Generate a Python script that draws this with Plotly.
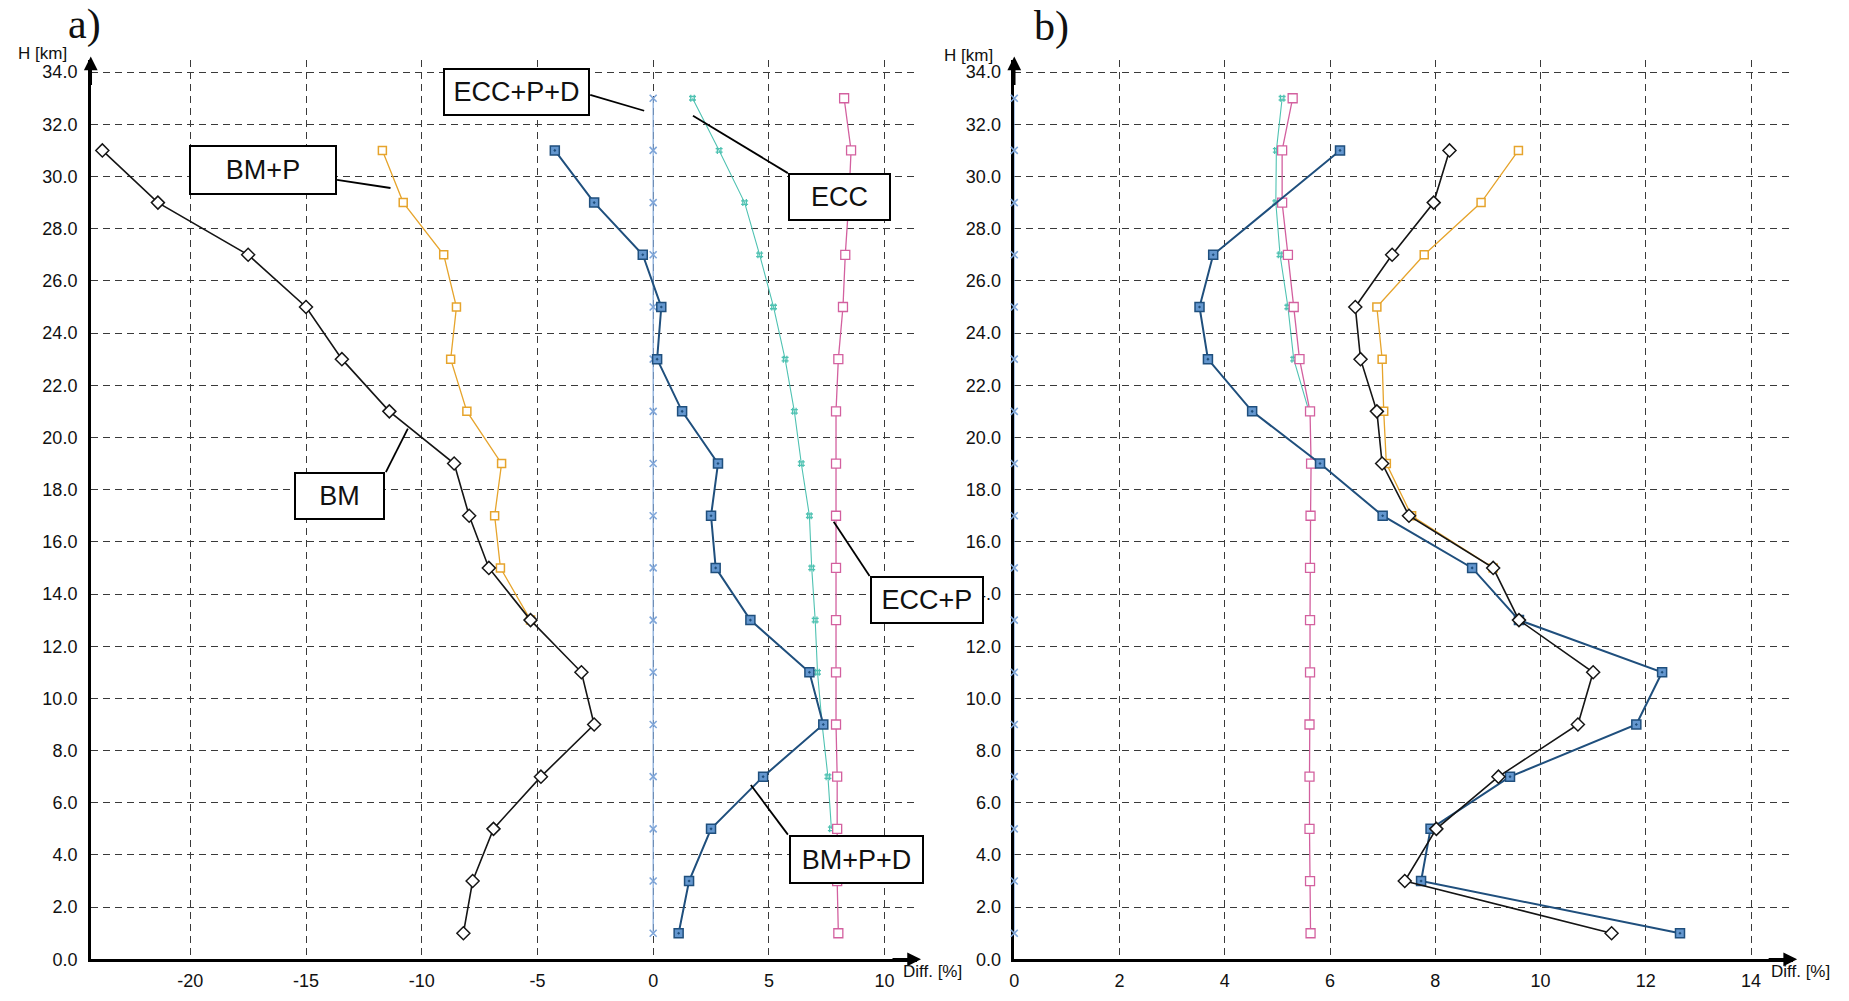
import plotly.graph_objects as go

# ---------------- data ----------------
# heights of the profile levels [km]
H33 = [33, 31, 29, 27, 25, 23, 21, 19, 17, 15, 13, 11, 9, 7, 5, 3, 1]
H31 = H33[1:]

# panel a) differences [%]
a_bm_h = H31
a_bm = [-23.8, -21.4, -17.5, -15.0, -13.45, -11.4, -8.6, -7.95, -7.1, -5.3,
        -3.1, -2.55, -4.85, -6.9, -7.8, -8.2]
a_bmp_h = [31, 29, 27, 25, 23, 21, 19, 17, 15, 13]
a_bmp = [-11.7, -10.8, -9.05, -8.5, -8.75, -8.05, -6.55, -6.85, -6.6, -5.3]
a_bmpd_h = H31
a_bmpd = [-4.25, -2.55, -0.45, 0.35, 0.17, 1.25, 2.8, 2.5, 2.7, 4.2,
          6.75, 7.35, 4.75, 2.5, 1.55, 1.1]
a_eccpd_h = H33
a_eccpd = [0.0] * 17
a_ecc_h = [33, 31, 29, 27, 25, 23, 21, 19, 17, 15, 13, 11, 9, 7, 5]
a_ecc = [1.7, 2.85, 3.95, 4.6, 5.2, 5.7, 6.1, 6.4, 6.75, 6.85, 7.0, 7.1,
         7.3, 7.55, 7.7]
a_eccp_h = H33
a_eccp = [8.25, 8.55, 8.45, 8.3, 8.2, 8.0, 7.9, 7.9, 7.9, 7.9, 7.9, 7.9,
          7.9, 7.95, 7.95, 7.95, 8.0]

# panel b) differences [%]
b_bm_h = H31
b_bm = [8.27, 7.97, 7.18, 6.48, 6.58, 6.89, 6.99, 7.5, 9.1, 9.59, 11.0,
        10.71, 9.2, 8.02, 7.42, 11.35]
b_bmp_h = [31, 29, 27, 25, 23, 21, 19, 17, 15]
b_bmp = [9.58, 8.87, 7.79, 6.89, 6.99, 7.02, 7.07, 7.55, 9.1]
b_bmpd_h = [31, 27, 25, 23, 21, 19, 17, 15, 13, 11, 9, 7, 5, 3, 1]
b_bmpd = [6.19, 3.78, 3.52, 3.68, 4.52, 5.81, 7.0, 8.7, 9.59, 12.31, 11.82,
          9.42, 7.91, 7.73, 12.65]
b_eccpd_h = H33
b_eccpd = [0.0] * 17
b_ecc_h = [33, 31, 29, 27, 25, 23, 21]
b_ecc = [5.09, 4.98, 4.97, 5.05, 5.2, 5.31, 5.6]
b_eccp_h = H33
b_eccp = [5.29, 5.09, 5.09, 5.2, 5.31, 5.42, 5.62, 5.64, 5.63, 5.62, 5.62,
          5.62, 5.61, 5.61, 5.61, 5.62, 5.63]

# tick labels
a_xticks = [-20, -15, -10, -5, 0, 5, 10]
b_xticks = [0, 2, 4, 6, 8, 10, 12, 14]
y_ticks = list(range(0, 36, 2))

# ---------------- styles ----------------
C_BM = "#151515"
C_BMP = "#e6a42c"
C_BMPD = "#1f4f7d"
C_BMPD_FILL = "#6497cf"
C_ECCPD = "#7fa6d9"
C_ECC = "#4fc2b2"
C_ECCP = "#d3609f"

SANS = "Liberation Sans, Arial, sans-serif"

W, H = 1849, 1001

fig = go.Figure()


def add_series(xs, hs, axis, color, symbol, size, lw, mfill, mline, mlw,
               clip=True):
    fig.add_trace(go.Scatter(
        x=xs, y=hs, mode="lines+markers",
        xaxis="x" if axis == 1 else "x2",
        yaxis="y" if axis == 1 else "y2",
        line=dict(color=color, width=lw),
        marker=dict(symbol=symbol, size=size, color=mfill,
                    line=dict(color=mline, width=mlw)),
        cliponaxis=clip, showlegend=False, hoverinfo="x+y"))


for ax_id, d in ((1, dict(eccpd=(a_eccpd, a_eccpd_h), ecc=(a_ecc, a_ecc_h),
                          eccp=(a_eccp, a_eccp_h), bmp=(a_bmp, a_bmp_h),
                          bm=(a_bm, a_bm_h), bmpd=(a_bmpd, a_bmpd_h))),
                 (2, dict(eccpd=(b_eccpd, b_eccpd_h), ecc=(b_ecc, b_ecc_h),
                          eccp=(b_eccp, b_eccp_h), bmp=(b_bmp, b_bmp_h),
                          bmpd=(b_bmpd, b_bmpd_h), bm=(b_bm, b_bm_h)))):
    for key, (xs, hs) in d.items():
        if key == "eccpd":
            add_series(xs, hs, ax_id, C_ECCPD, "x-thin-open", 7, 1.2,
                       C_ECCPD, C_ECCPD, 1.6, clip=False)
        elif key == "ecc":
            add_series(xs, hs, ax_id, C_ECC, "hash-open", 7, 1.1,
                       C_ECC, C_ECC, 1.3)
        elif key == "eccp":
            add_series(xs, hs, ax_id, C_ECCP, "square", 9, 1.3,
                       "white", C_ECCP, 1.3)
        elif key == "bmp":
            add_series(xs, hs, ax_id, C_BMP, "square", 8, 1.3,
                       "white", C_BMP, 1.5)
        elif key == "bm":
            add_series(xs, hs, ax_id, C_BM, "diamond", 10, 1.6,
                       "white", C_BM, 1.5)
        elif key == "bmpd":
            add_series(xs, hs, ax_id, C_BMPD, "square-dot", 9, 2.0,
                       C_BMPD_FILL, C_BMPD, 1.5)

# ---------------- axes ----------------
A_RANGE = [-24.3, 11.4]
B_RANGE = [0, 14.8]
Y_RANGE = [0, 34.45]
A_DOM = [86 / W, 914.5 / W]
B_DOM = [1012 / W, 1793 / W]
Y_DOM = [32 / H, 940 / H]

grid = dict(showgrid=True, gridcolor="#3a3a3a", gridwidth=1.1,
            griddash="7px,5px", zeroline=False, showline=True,
            linecolor="black", linewidth=2.5, layer="below traces",
            tickfont=dict(family=SANS, size=18, color="#111"))

xa = dict(grid, range=A_RANGE, domain=A_DOM, tickvals=a_xticks,
          ticktext=[str(v) for v in a_xticks], ticks="outside", ticklen=3,
          tickcolor="rgba(0,0,0,0)", anchor="y")
xb = dict(grid, range=B_RANGE, domain=B_DOM, tickvals=b_xticks,
          ticktext=[str(v) for v in b_xticks], ticks="outside", ticklen=3,
          tickcolor="rgba(0,0,0,0)", anchor="y2")
ya = dict(grid, range=Y_RANGE, domain=Y_DOM, tickvals=y_ticks,
          tickformat=".1f", ticks="outside", ticklen=7,
          tickcolor="rgba(0,0,0,0)", anchor="x")
yb = dict(grid, range=Y_RANGE, domain=Y_DOM, tickvals=y_ticks,
          tickformat=".1f", ticks="outside", ticklen=7,
          tickcolor="rgba(0,0,0,0)", anchor="x2")

annotations = []
shapes = []

# axis arrow heads
for dom in (A_DOM, B_DOM):
    annotations.append(dict(xref="paper", yref="paper", x=dom[0],
                            y=Y_DOM[1] + 4 / H, ax=0, ay=30, text="",
                            showarrow=True, arrowhead=2, arrowsize=1.1,
                            arrowwidth=2.5, arrowcolor="black"))
    annotations.append(dict(xref="paper", yref="paper", x=dom[1] + 4 / W,
                            y=Y_DOM[0], ax=-30, ay=0, text="",
                            showarrow=True, arrowhead=2, arrowsize=1.1,
                            arrowwidth=2.5, arrowcolor="black"))

# axis titles
for txt, px, py in (("H [km]", 38, 54), ("H [km]", 966, 56)):
    annotations.append(dict(xref="paper", yref="paper", x=px / W,
                            y=1 - py / H, text=txt, showarrow=False,
                            xanchor="center", yanchor="middle",
                            font=dict(family=SANS, size=17, color="#111")))
for px, py in ((898, 981), (1769, 981)):
    annotations.append(dict(xref="paper", yref="paper", x=px / W,
                            y=1 - py / H, text="Diff. [%]", showarrow=False,
                            xanchor="left", yanchor="middle",
                            font=dict(family=SANS, size=17, color="#111")))

# panel letters
for txt, px, py in (("a)", 80, 25), ("b)", 1049, 27)):
    annotations.append(dict(xref="paper", yref="paper", x=px / W,
                            y=1 - py / H, text=txt, showarrow=False,
                            xanchor="center", yanchor="middle",
                            font=dict(family="Liberation Serif, Times New Roman, serif",
                                      size=42, color="#111")))

# series name boxes with leader lines (panel a)
boxes = [
    ("BM+P", 259, 172, 148, 50, (-13.66, 29.87), (-11.35, 29.56)),
    ("ECC+P+D", 513, 93, 147, 48, (-2.72, 33.13), (-0.39, 32.52)),
    ("ECC", 837, 199, 103, 48, (5.82, 30.13), (1.72, 32.33)),
    ("BM", 335, 501, 91, 48, (-11.55, 18.67), (-10.6, 20.34)),
    ("ECC+P", 924, 606, 114, 48, (9.35, 14.69), (7.8, 16.77)),
    ("BM+P+D", 854, 868, 135, 49, (5.82, 4.78), (4.22, 6.68)),
]
for txt, cx, cy, bw, bh, p0, p1 in boxes:
    shapes.append(dict(type="line", xref="x", yref="y", x0=p0[0], y0=p0[1],
                       x1=p1[0], y1=p1[1],
                       line=dict(color="black", width=1.8)))
    annotations.append(dict(xref="paper", yref="paper", x=cx / W,
                            y=1 - cy / H, text=txt, showarrow=False,
                            xanchor="center", yanchor="middle",
                            width=bw - 4, height=bh - 4, borderpad=0,
                            bgcolor="white", bordercolor="black",
                            borderwidth=2,
                            font=dict(family=SANS, size=27, color="#111")))

fig.update_layout(
    width=W, height=H,
    margin=dict(l=0, r=0, t=0, b=0),
    paper_bgcolor="white", plot_bgcolor="white",
    xaxis=xa, yaxis=ya, xaxis2=xb, yaxis2=yb,
    annotations=annotations, shapes=shapes,
    showlegend=False,
)

fig.write_html("out.html")
